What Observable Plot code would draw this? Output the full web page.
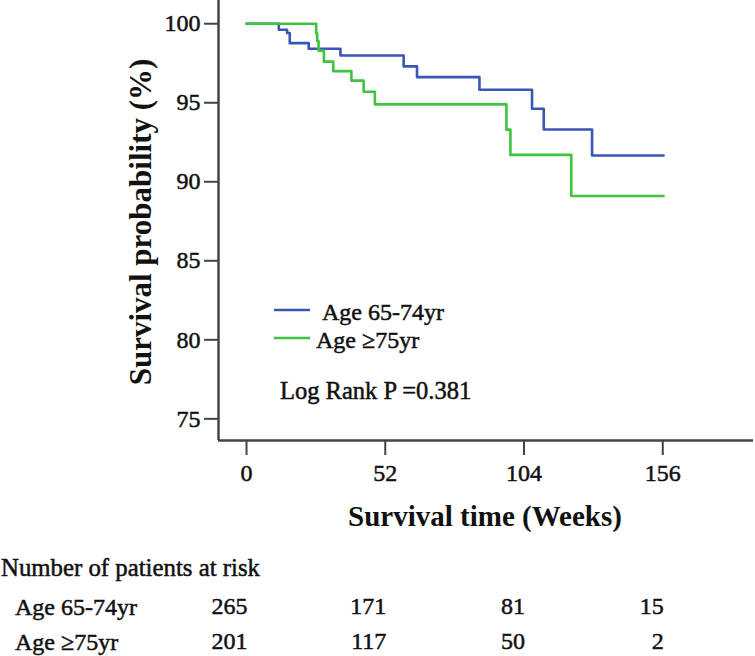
<!DOCTYPE html>
<html>
<head>
<meta charset="utf-8">
<script src="https://cdn.jsdelivr.net/npm/d3@7"></script>
<script src="https://cdn.jsdelivr.net/npm/@observablehq/plot@0.6"></script>
<style>
  html, body { margin: 0; padding: 0; background: #fff; }
  svg { display: block; }
  svg text { stroke: #111; stroke-width: 0.5px; }
  svg text.bold { stroke: none; }
</style>
</head>
<body>
<div id="chart"></div>
<script>
// Kaplan-Meier steps
const groups = ["Age 65-74yr", "Age \u226575yr"];
const weeks65 = [0, 12.1, 15.2, 16.2, 23.3, 35.2, 58.9, 63.9, 87.3, 107, 111.4, 129.5, 156.3];
const surv65  = [100, 99.62, 99.41, 98.77, 98.42, 97.99, 97.30, 96.62, 95.82, 94.62, 93.31, 91.66, 91.66];
const weeks75 = [0, 26.1, 26.5, 27, 29, 32.5, 39.3, 43.9, 48.1, 97.4, 98.9, 121.7, 156.3];
const surv75  = [100, 99.4, 98.9, 98.3, 97.6, 97.0, 96.4, 95.7, 94.9, 93.3, 91.7, 89.1, 89.1];
const xTicks = [0, 52, 104, 156];
const yTicks = [75, 80, 85, 90, 95, 100];
const riskWeeks = [0, 52, 104, 156];
const risk65 = [265, 171, 81, 15];
const risk75 = [201, 117, 50, 2];
const colors = ["#3a55b6", "#3fc43f"];
const xDomain = [-10.5, 190];
const yDomain = [73.63, 101.47];

const curves = [
  ...weeks65.map((w, i) => ({group: groups[0], week: w, surv: surv65[i]})),
  ...weeks75.map((w, i) => ({group: groups[1], week: w, surv: surv75[i]}))
];
const riskRows = [
  ...riskWeeks.map((w, i) => ({row: 0, week: w, n: risk65[i]})),
  ...riskWeeks.map((w, i) => ({row: 1, week: w, n: risk75[i]}))
];

const W = 755, H = 656;
const axisColor = "#444";
const font = "'Liberation Serif', 'Times New Roman', serif";

const chart = Plot.plot({
  width: W,
  height: H,
  marginLeft: 218,
  marginRight: 2,
  marginTop: 0,
  marginBottom: 216,
  style: {fontFamily: font, fontSize: "24px", color: "#111", background: "#fff"},
  x: {domain: xDomain},
  y: {domain: yDomain},
  color: {domain: groups, range: colors},
  marks: [
    Plot.axisX({ticks: xTicks, tickSize: 15, tickPadding: 8, label: null, fontSize: 24, stroke: axisColor, strokeWidth: 2}),
    Plot.axisY({ticks: yTicks, tickSize: 14, tickPadding: 4, label: null, fontSize: 24, stroke: axisColor, strokeWidth: 2}),
    Plot.ruleX([xDomain[0]], {stroke: axisColor, strokeWidth: 2.5}),
    Plot.ruleY([yDomain[0]], {stroke: axisColor, strokeWidth: 2.5}),
    Plot.line(curves, {x: "week", y: "surv", z: "group", stroke: "group", curve: "step-after", strokeWidth: 2.6}),
    Plot.text(riskRows.filter(d => d.row === 0), {x: "week", text: "n", frameAnchor: "bottom", dy: 173, dx: 1, textAnchor: "end", fontSize: 24, fill: "#111"}),
    Plot.text(riskRows.filter(d => d.row === 1), {x: "week", text: "n", frameAnchor: "bottom", dy: 208, dx: 1, textAnchor: "end", fontSize: 24, fill: "#111"})
  ]
});

document.getElementById("chart").appendChild(chart);

// Annotations: titles, legend, table labels
const svg = d3.select(chart);
const ann = svg.append("g").attr("font-family", font).attr("fill", "#111").attr("text-anchor", "start");

ann.append("text").attr("class", "bold")
  .attr("x", 485).attr("y", 516).attr("dy", "0.35em")
  .attr("text-anchor", "middle").attr("font-size", 29).attr("font-weight", "bold")
  .text("Survival time (Weeks)");

ann.append("text").attr("class", "bold")
  .attr("transform", "translate(140,222) rotate(-90)")
  .attr("dy", "0.35em")
  .attr("text-anchor", "middle").attr("font-size", 31).attr("font-weight", "bold")
  .text("Survival probability (%)");

// legend
const legend = [
  {label: groups[0], color: colors[0], y: 310, tx: 322},
  {label: groups[1], color: colors[1], y: 338, tx: 316}
];
legend.forEach(l => {
  ann.append("line").attr("x1", 274).attr("x2", 310).attr("y1", l.y).attr("y2", l.y)
    .attr("stroke", l.color).attr("stroke-width", 2.5);
  ann.append("text").attr("x", l.tx).attr("y", l.y + 2).attr("dy", "0.35em")
    .attr("text-anchor", "start").attr("font-size", 24).text(l.label);
});
ann.append("text").attr("x", 280).attr("y", 390).attr("dy", "0.35em")
  .attr("text-anchor", "start").attr("font-size", 24.5).text("Log Rank P =0.381");

// at-risk table labels
ann.append("text").attr("x", 1).attr("y", 567).attr("dy", "0.35em")
  .attr("text-anchor", "start").attr("font-size", 24.8).text("Number of patients at risk");
ann.append("text").attr("x", 15).attr("y", 607).attr("dy", "0.35em")
  .attr("text-anchor", "start").attr("font-size", 24).text(groups[0]);
ann.append("text").attr("x", 15).attr("y", 642).attr("dy", "0.35em")
  .attr("text-anchor", "start").attr("font-size", 24).text(groups[1]);
</script>
</body>
</html>
